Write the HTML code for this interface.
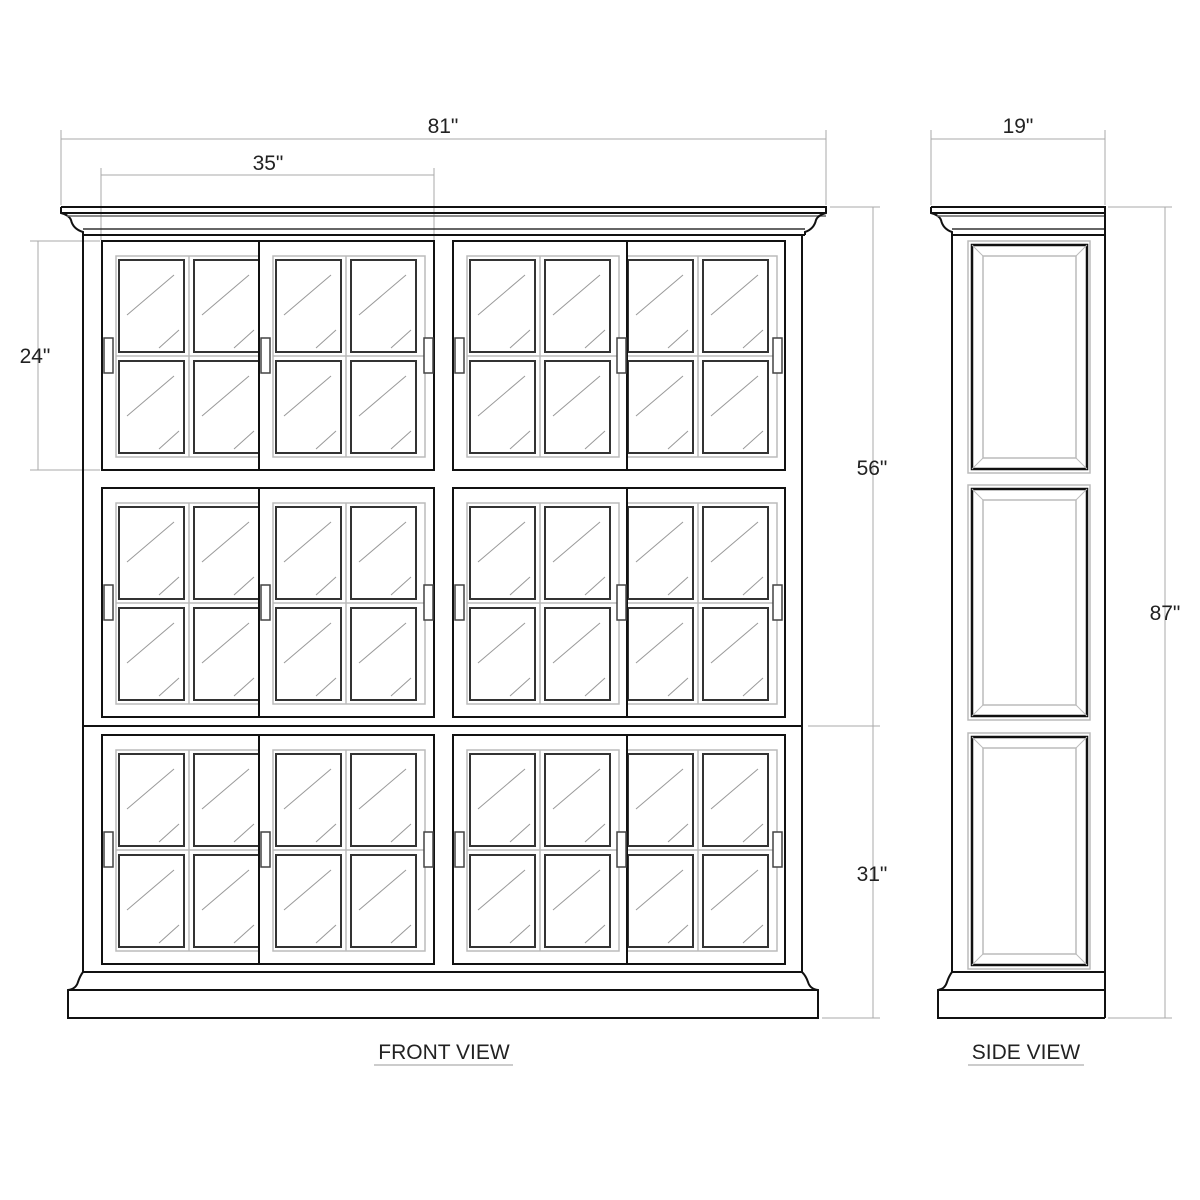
<!DOCTYPE html>
<html><head><meta charset="utf-8"><style>
html,body{margin:0;padding:0;background:#fff;}
svg{display:block;}
text{font-family:"Liberation Sans",sans-serif;font-size:21px;fill:#222;text-anchor:middle;}
</style></head><body>
<svg id="s" width="1200" height="1200" viewBox="0 0 1200 1200" xmlns="http://www.w3.org/2000/svg">
<g fill="none" stroke="#aaa" stroke-width="1">
<line x1="61" y1="139" x2="826" y2="139"/><line x1="61" y1="130" x2="61" y2="205"/><line x1="826" y1="130" x2="826" y2="205"/>
<line x1="101" y1="175" x2="434" y2="175"/><line x1="101" y1="168" x2="101" y2="240"/><line x1="434" y1="168" x2="434" y2="240"/>
<line x1="38" y1="241" x2="38" y2="470"/><line x1="30" y1="241" x2="100" y2="241"/><line x1="30" y1="470" x2="100" y2="470"/>
<line x1="873" y1="207" x2="873" y2="1018"/><line x1="830" y1="207" x2="880" y2="207"/><line x1="808" y1="726" x2="880" y2="726"/><line x1="822" y1="1018" x2="880" y2="1018"/>
<line x1="931" y1="139" x2="1105" y2="139"/><line x1="931" y1="130" x2="931" y2="205"/><line x1="1105" y1="130" x2="1105" y2="205"/>
<line x1="1165" y1="207" x2="1165" y2="1018"/><line x1="1108" y1="207" x2="1172" y2="207"/><line x1="1108" y1="1018" x2="1172" y2="1018"/>
</g>
<text x="443" y="133">81"</text>
<text x="268" y="170">35"</text>
<text x="35" y="363">24"</text>
<text x="872" y="475">56"</text>
<text x="872" y="881">31"</text>
<text x="1165" y="620">87"</text>
<text x="1018" y="133">19"</text>
<text x="444" y="1059">FRONT VIEW</text>
<line x1="374" y1="1065" x2="513" y2="1065" stroke="#999"/>
<text x="1026" y="1059">SIDE VIEW</text>
<line x1="968" y1="1065" x2="1084" y2="1065" stroke="#999"/>
<g id="g" fill="none" stroke="#111" stroke-width="2"></g>
</svg>
<script>
var g=document.getElementById('g'),h='';
function L(a,b,c,d,s,w){h+='<line x1="'+a+'" y1="'+b+'" x2="'+c+'" y2="'+d+'"'+(s?' stroke="'+s+'"':'')+(w?' stroke-width="'+w+'"':'')+'/>';}
function R(x,y,w,hh,s,sw,f){h+='<rect x="'+x+'" y="'+y+'" width="'+w+'" height="'+hh+'"'+(s?' stroke="'+s+'"':'')+(sw?' stroke-width="'+sw+'"':'')+(f?' fill="'+f+'"':'')+'/>';}
function crown(x1,x2,bx1,bx2){
 h+='<path d="M'+x1+' 207 L'+x2+' 207 L'+x2+' 213 M'+x1+' 207 L'+x1+' 213 Q'+(x1+8)+' 215 '+(x1+10)+' 220 Q'+(x1+12)+' 229 '+bx1+' 232 L'+bx1+' 235 M'+x1+' 213 L'+x2+' 213"/>';
 L(x1+6,216,x2,216,'#666',1.5);L(bx1,229,bx2,229,'#333',1.5);L(bx1,235,bx2,235);
}
crown(61,826,83,805);
h+='<path d="M826 207 L826 213 Q818 215 816 220 Q814 229 805 232 L805 235"/>';
L(83,235,83,972);L(802,235,802,972);L(83,726,802,726);L(83,972,802,972);
h+='<path d="M83 972 Q80 976 78 982 Q76 989 68 990 L68 1018 L818 1018 L818 990 Q810 989 808 982 Q806 976 802 972"/>';
L(68,990,818,990);
function panes(x,y){
 R(x-3,y-4,152,201,'#bbb',1.5);
 L(x+70,y-4,x+70,y+197,'#bbb',1.5);L(x-3,y+96,x+149,y+96,'#bbb',1.5);
 [[0,0],[75,0],[0,101],[75,101]].forEach(function(o){
  var px=x+o[0],py=y+o[1];R(px,py,65,92,'#333',2);
  L(px+8,py+55,px+55,py+15,'#999',1);L(px+40,py+88,px+60,py+70,'#999',1);
 });
}
function handle(x,y){R(x,y,9,35,'#444',1.5,'#fff');}
for(var r=0;r<3;r++){
 var dy=r*247,ty=241+dy;
 R(102,ty,332,229);
 panes(119,260+dy);
 R(259,ty,175,229,'none',null,'#fff');R(259,ty,175,229);
 panes(276,260+dy);
 handle(104,338+dy);handle(261,338+dy);handle(424,338+dy);
 R(453,ty,332,229);
 panes(628,260+dy);
 R(453,ty,174,229,'none',null,'#fff');R(453,ty,174,229);
 panes(470,260+dy);
 handle(455,338+dy);handle(617,338+dy);handle(773,338+dy);
}
crown(931,1105,952,1105);
L(1105,207,1105,235);
L(952,235,952,972);L(1105,235,1105,1018);L(952,972,1105,972);
h+='<path d="M952 972 Q949 976 947 982 Q945 989 938 990 L938 1018 L1105 1018"/>';
L(938,990,1105,990);
[[245,469],[489,716],[737,965]].forEach(function(p){
 var y1=p[0],y2=p[1];
 R(968,y1-4,122,y2-y1+8,'#bbb',1.5);
 R(972,y1,115,y2-y1,'#111',2.5);
 R(983,y1+11,93,y2-y1-22,'#bbb',1.5);
 L(972,y1,983,y1+11,'#bbb',1);L(1087,y1,1076,y1+11,'#bbb',1);L(972,y2,983,y2-11,'#bbb',1);L(1087,y2,1076,y2-11,'#bbb',1);
});
g.innerHTML=h;
</script>
</body></html>
